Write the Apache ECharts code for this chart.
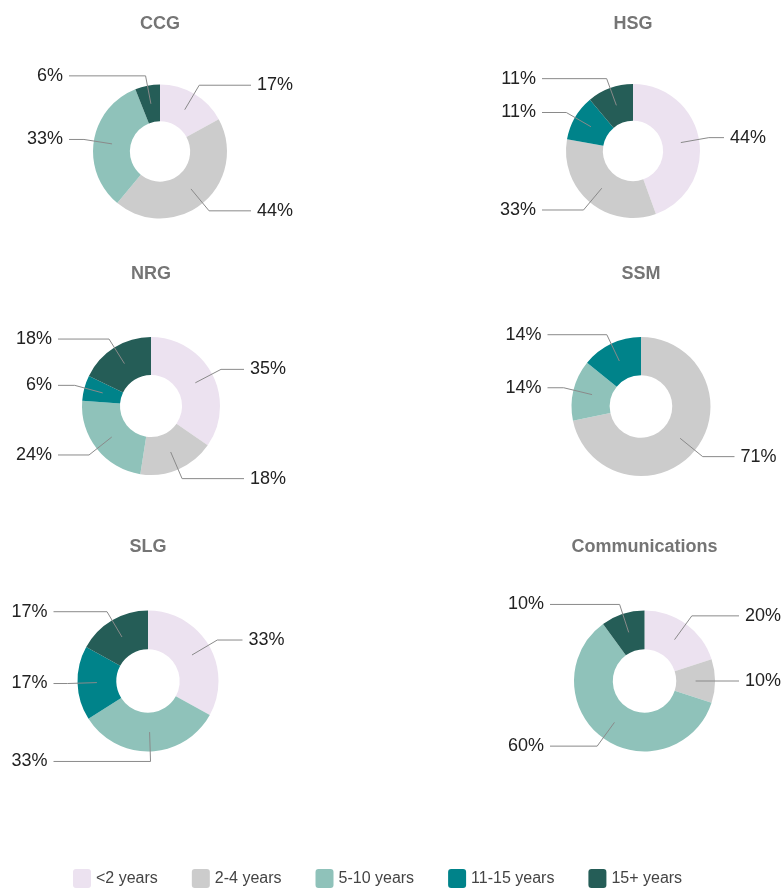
<!DOCTYPE html>
<html>
<head>
<meta charset="utf-8">
<script src="https://cdn.jsdelivr.net/npm/echarts@6/dist/echarts.min.js"></script>
<style>
  html, body { margin: 0; padding: 0; background: #ffffff; }
  #chart { width: 782px; height: 890px; }
</style>
</head>
<body>
<div id="chart"></div>
<script>
// ---- Data (percent of staff by tenure) ----
const categories = ['<2 years', '2-4 years', '5-10 years', '11-15 years', '15+ years'];
const groupNames = ['CCG', 'HSG', 'NRG', 'SSM', 'SLG', 'Communications'];
const ccgValues   = [17, 44, 33, 0, 6];
const hsgValues   = [44, 33, 0, 11, 11];
const nrgValues   = [35, 18, 24, 6, 18];
const ssmValues   = [0, 71, 14, 14, 0];
const slgValues   = [33, 0, 33, 17, 17];
const commsValues = [20, 10, 60, 0, 10];
const groupValues = [ccgValues, hsgValues, nrgValues, ssmValues, slgValues, commsValues];

// ---- Styles / layout ----
const colors = ['#ece2f0', '#cccccc', '#8fc2ba', '#00838a', '#255d57'];
const FONT = "'Liberation Sans', Arial, sans-serif";
const layouts = [
  { cx: 160,   cy: 151.5, r: 67,   ty: 23 },
  { cx: 633,   cy: 151,   r: 67,   ty: 23 },
  { cx: 151,   cy: 406,   r: 69,   ty: 273 },
  { cx: 641,   cy: 406.5, r: 69.5, ty: 273 },
  { cx: 148,   cy: 681,   r: 70.5, ty: 546 },
  { cx: 644.5, cy: 681,   r: 70.5, ty: 546 }
];
const HOLE = 0.45;

const chart = echarts.init(document.getElementById('chart'), null, { renderer: 'canvas' });

const titles = [];
const series = [];

groupNames.forEach(function (name, gi) {
  const L = layouts[gi];
  const vals = groupValues[gi];
  titles.push({
    text: name,
    left: L.cx,
    top: L.ty - 8,
    textAlign: 'center',
    padding: 0,
    textStyle: { fontFamily: FONT, fontSize: 18, fontWeight: 'bold', color: '#757575' }
  });
  // visible ring
  series.push({
    type: 'pie',
    name: name,
    z: 2,
    center: [L.cx, L.cy],
    radius: [L.r * HOLE, L.r],
    startAngle: 90,
    clockwise: true,
    silent: true,
    label: { show: false },
    labelLine: { show: false },
    itemStyle: { borderWidth: 0 },
    data: categories.map(function (c, i) {
      return { name: c, value: vals[i], itemStyle: { color: colors[i] } };
    })
  });
  // transparent overlay carrying the labels, so lines start mid-ring
  const midR = L.r * (1 + HOLE) / 2;
  const endOff = L.r + 24;
  series.push({
    type: 'pie',
    name: name + '-labels',
    z: 6,
    center: [L.cx, L.cy],
    radius: [0, midR],
    startAngle: 90,
    clockwise: true,
    silent: true,
    avoidLabelOverlap: false,
    itemStyle: { color: 'rgba(0,0,0,0)' },
    label: {
      show: true,
      position: 'outside',
      formatter: '{c}%',
      color: '#222222',
      fontFamily: FONT,
      fontSize: 18
    },
    labelLine: {
      show: true,
      length: L.r + 10 - midR,
      length2: 10,
      lineStyle: { color: '#8a8a8a', width: 1 }
    },
    labelLayout: function (p) {
      const pts = p.labelLinePoints;
      if (!pts || pts.length < 3) return {};
      const isLeft = pts[1][0] < L.cx + 3;
      const y = pts[1][1];
      const endX = isLeft ? L.cx - endOff : L.cx + endOff;
      const newPts = [pts[0], pts[1], [endX, y]];
      return {
        x: isLeft ? endX - 6 : endX + 6,
        y: y,
        align: isLeft ? 'right' : 'left',
        verticalAlign: 'middle',
        labelLinePoints: newPts
      };
    },
    data: categories.map(function (c, i) {
      const item = { name: c, value: vals[i] };
      if (!vals[i]) {
        item.label = { show: false };
        item.labelLine = { show: false };
      }
      return item;
    })
  });
});

chart.setOption({
  animation: false,
  backgroundColor: '#ffffff',
  title: titles,
  legend: {
    left: 73,
    top: 869,
    padding: 0,
    itemGap: 34,
    itemWidth: 18,
    itemHeight: 19,
    icon: 'path://M3,0 L15,0 Q18,0 18,3 L18,16 Q18,19 15,19 L3,19 Q0,19 0,16 L0,3 Q0,0 3,0 Z',
    selectedMode: false,
    textStyle: { fontFamily: FONT, fontSize: 16, color: '#444444' },
    data: categories.map(function (c, i) {
      return { name: c, itemStyle: { color: colors[i] } };
    })
  },
  series: series
});
</script>
</body>
</html>
